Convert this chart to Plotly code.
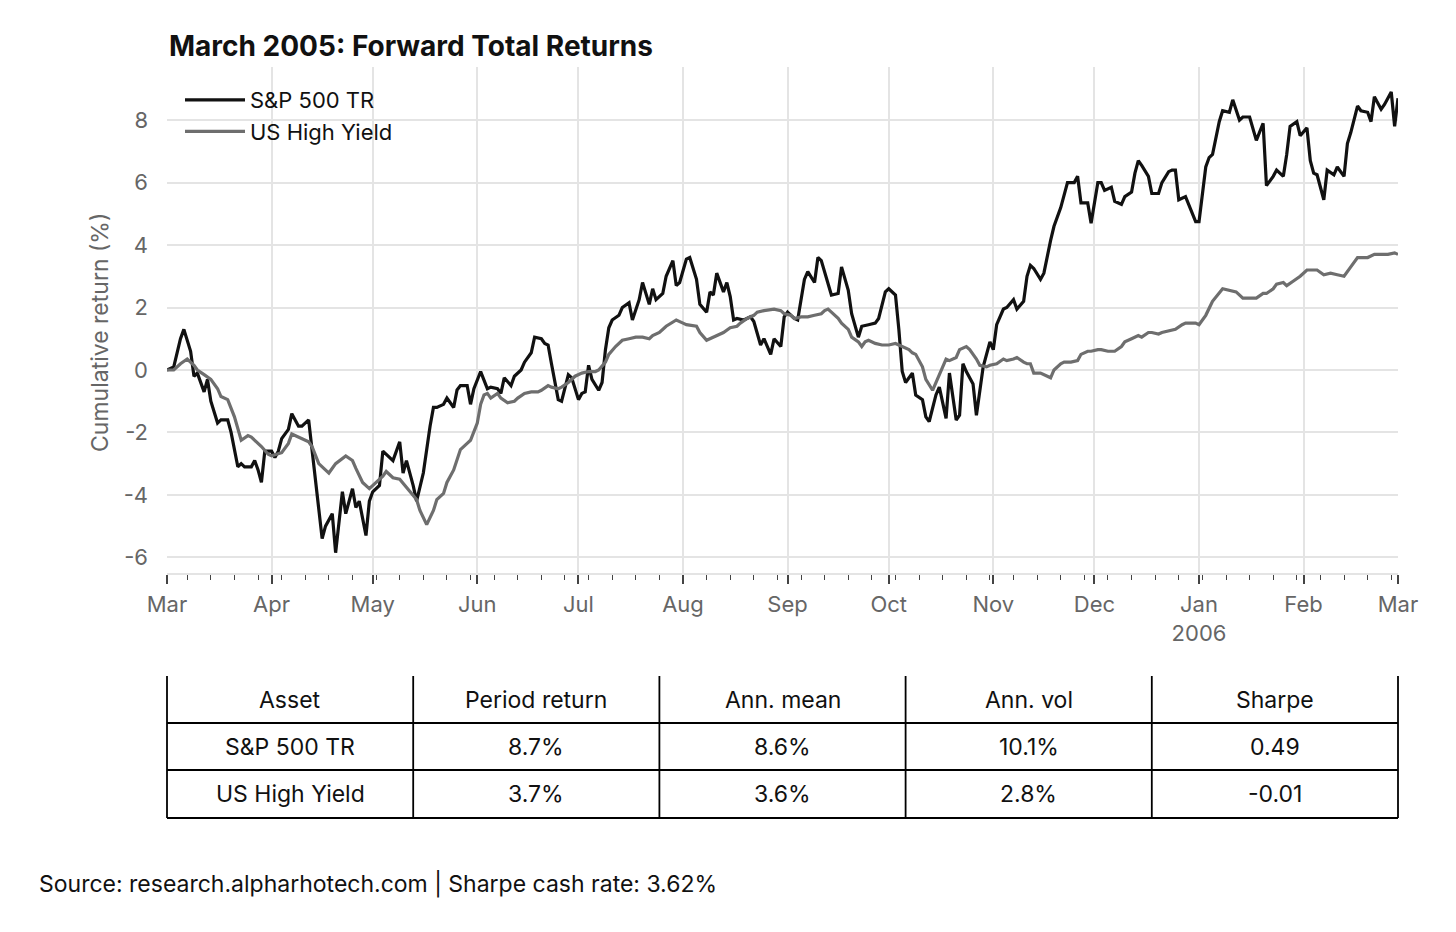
import pandas as pd
import plotly.graph_objects as go

# ---------------- data ----------------
START = "2005-03-01"

sp_days = [0, 2, 4, 5, 7, 8, 9, 11, 12, 13, 15, 16, 18, 19, 21, 22, 23, 25, 26, 27, 28, 29, 31, 32, 33, 34, 36, 37, 39, 40,
           42, 43, 44, 46, 47, 49, 50, 52, 53, 55, 56, 57, 59, 60, 61, 63, 64, 66, 67, 69, 70, 71, 73, 74, 76, 78, 79, 80, 82, 83,
           85, 86, 87, 89, 90, 91, 93, 95, 96, 98, 99, 100, 102, 103, 105, 106, 108, 109, 111, 112, 113, 114, 115, 116, 117, 119, 120, 122, 123, 124,
           125, 126, 128, 129, 130, 131, 132, 134, 135, 137, 138, 140, 141, 143, 144, 145, 147, 148, 150, 151, 152, 154, 155, 157, 158, 160, 161, 162, 163, 165,
           166, 167, 168, 169, 171, 173, 174, 175, 176, 177, 179, 180, 182, 183, 184, 186, 187, 189, 190, 192, 193, 194, 196, 197, 199, 200, 202, 203, 205, 206,
           208, 210, 211, 213, 214, 216, 217, 218, 219, 221, 222, 224, 225, 226, 228, 229, 231, 232, 234, 235, 236, 237, 239, 240, 242, 243, 244, 245, 246, 248,
           249, 251, 252, 254, 255, 256, 257, 259, 260, 262, 263, 265, 266, 267, 269, 270, 271, 273, 274, 276, 277, 278, 280, 281, 283, 284, 286, 287, 288, 289,
           291, 292, 294, 295, 297, 298, 299, 300, 302, 303, 305, 306, 308, 309, 310, 312, 313, 315, 316, 318, 319, 321, 322, 323, 325, 326, 328, 329, 331, 332,
           333, 335, 336, 338, 339, 340, 341, 343, 344, 346, 347, 349, 350, 351, 353, 354, 356, 357, 358, 360, 361, 363, 364, 365]
sp_ret = [0.0, 0.1, 1.0, 1.3, 0.6, -0.2, -0.1, -0.7, -0.3, -1.0, -1.7, -1.6, -1.6, -2.0, -3.1, -3.0, -3.1, -3.1, -2.9, -3.2, -3.6, -2.6, -2.6, -2.8, -2.6, -2.2, -1.9, -1.4, -1.8, -1.8,
          -1.6, -2.5, -3.6, -5.4, -5.0, -4.6, -5.85, -3.9, -4.6, -3.8, -4.4, -4.2, -5.3, -4.2, -3.9, -3.7, -2.6, -2.8, -2.9, -2.3, -3.3, -2.9, -3.7, -4.2, -3.3, -1.8, -1.2, -1.2, -1.1, -0.9,
          -1.2, -0.64, -0.5, -0.5, -1.1, -0.6, -0.05, -0.6, -0.55, -0.6, -0.75, -0.25, -0.5, -0.2, 0.0, 0.25, 0.55, 1.05, 1.0, 0.85, 0.8, 0.2, -0.4, -0.95, -1.0, -0.15, -0.25, -0.95, -0.75, -0.7,
          0.15, -0.3, -0.65, -0.4, 0.65, 1.35, 1.6, 1.75, 2.0, 2.15, 1.6, 2.25, 2.8, 2.1, 2.6, 2.25, 2.45, 3.0, 3.5, 2.7, 2.8, 3.55, 3.6, 2.9, 2.1, 1.85, 2.5, 2.4, 3.1, 2.5,
          2.8, 2.35, 1.6, 1.65, 1.6, 1.7, 1.55, 1.2, 0.8, 1.0, 0.5, 1.0, 0.75, 1.7, 1.85, 1.65, 1.6, 2.9, 3.15, 2.8, 3.6, 3.5, 2.8, 2.4, 2.45, 3.3, 2.55, 1.8, 1.05, 1.4,
          1.45, 1.5, 1.65, 2.5, 2.6, 2.4, 1.3, -0.05, -0.4, -0.1, -0.8, -0.95, -1.5, -1.65, -0.8, -0.55, -1.55, -0.1, -1.6, -1.45, 0.2, -0.05, -0.45, -1.45, 0.1, 0.5, 0.9, 0.65, 1.45, 1.95,
          2.0, 2.25, 1.95, 2.2, 3.0, 3.35, 3.25, 2.9, 3.1, 4.15, 4.6, 5.2, 5.65, 6.0, 6.0, 6.2, 5.35, 5.35, 4.7, 6.0, 6.0, 5.75, 5.85, 5.4, 5.3, 5.55, 5.7, 6.3, 6.7, 6.55,
          6.2, 5.65, 5.65, 6.0, 6.35, 6.4, 6.4, 5.45, 5.55, 5.3, 4.75, 4.75, 6.5, 6.8, 6.9, 7.95, 8.3, 8.25, 8.65, 8.0, 8.1, 8.1, 7.75, 7.35, 7.9, 5.9, 6.2, 6.4, 6.2, 6.9,
          7.8, 7.95, 7.5, 7.75, 6.7, 6.3, 6.25, 5.45, 6.4, 6.25, 6.5, 6.2, 7.25, 7.6, 8.45, 8.3, 8.25, 7.95, 8.75, 8.35, 8.5, 8.9, 7.8, 8.7]

hy_days = [0, 2, 4, 6, 8, 9, 11, 13, 15, 16, 18, 20, 22, 24, 25, 28, 30, 31, 34, 36, 37, 39, 42, 43, 45, 48, 50, 53, 55, 56,
           58, 60, 62, 64, 65, 67, 69, 71, 74, 75, 77, 79, 80, 82, 83, 85, 86, 87, 89, 90, 92, 93, 94, 95, 96, 98, 99, 101, 103, 104,
           106, 108, 110, 111, 113, 114, 116, 117, 119, 121, 123, 125, 127, 128, 130, 131, 133, 135, 137, 139, 141, 143, 144, 146, 148, 150, 151, 153, 154, 157,
           158, 160, 161, 163, 165, 167, 169, 170, 172, 174, 175, 177, 179, 180, 182, 183, 185, 186, 188, 190, 192, 194, 195, 196, 197, 199, 200, 202, 203, 205,
           206, 207, 208, 210, 212, 214, 216, 218, 220, 221, 222, 224, 225, 227, 228, 230, 231, 232, 234, 235, 237, 238, 240, 241, 243, 244, 246, 248, 249, 251,
           252, 254, 255, 256, 257, 259, 260, 262, 263, 265, 266, 268, 270, 271, 273, 274, 276, 277, 279, 281, 283, 284, 286, 287, 288, 289, 291, 292, 294, 295,
           297, 299, 301, 302, 305, 306, 308, 310, 313, 315, 317, 319, 322, 323, 325, 326, 328, 329, 331, 332, 334, 336, 338, 340, 341, 343, 345, 347, 349, 351,
           353, 355, 356, 358, 360, 362, 364, 365]
hy_ret = [0.0, 0.0, 0.2, 0.35, 0.15, 0.0, -0.15, -0.3, -0.6, -0.85, -0.95, -1.5, -2.25, -2.1, -2.15, -2.45, -2.7, -2.75, -2.65, -2.35, -2.05, -2.15, -2.3, -2.45, -3.0, -3.3, -3.0, -2.75, -2.9, -3.15,
          -3.6, -3.8, -3.6, -3.4, -3.25, -3.45, -3.5, -3.75, -4.15, -4.5, -4.95, -4.5, -4.15, -3.95, -3.6, -3.2, -2.9, -2.55, -2.35, -2.25, -1.7, -1.1, -0.8, -0.75, -0.9, -0.75, -0.9, -1.05, -1.0, -0.9,
          -0.75, -0.7, -0.7, -0.65, -0.5, -0.55, -0.6, -0.55, -0.4, -0.2, -0.1, -0.05, -0.05, 0.0, 0.25, 0.5, 0.75, 0.95, 1.0, 1.05, 1.05, 1.0, 1.1, 1.2, 1.4, 1.55, 1.6, 1.5, 1.45, 1.4,
          1.2, 0.95, 1.0, 1.1, 1.2, 1.35, 1.4, 1.5, 1.65, 1.75, 1.85, 1.9, 1.95, 1.95, 1.9, 1.8, 1.75, 1.65, 1.7, 1.7, 1.75, 1.8, 1.9, 1.95, 1.85, 1.65, 1.5, 1.3, 1.05, 0.9,
          0.75, 0.9, 0.95, 0.85, 0.8, 0.8, 0.85, 0.75, 0.65, 0.55, 0.5, 0.1, -0.3, -0.65, -0.4, 0.1, 0.35, 0.3, 0.4, 0.65, 0.75, 0.65, 0.35, 0.15, 0.1, 0.15, 0.2, 0.35, 0.3, 0.35,
          0.4, 0.25, 0.2, 0.2, -0.1, -0.1, -0.15, -0.25, 0.0, 0.2, 0.25, 0.25, 0.3, 0.5, 0.6, 0.6, 0.65, 0.65, 0.6, 0.6, 0.75, 0.9, 1.0, 1.05, 1.1, 1.05, 1.2, 1.2, 1.15, 1.2,
          1.25, 1.3, 1.45, 1.5, 1.5, 1.45, 1.75, 2.2, 2.6, 2.55, 2.5, 2.3, 2.3, 2.3, 2.45, 2.45, 2.6, 2.75, 2.8, 2.7, 2.85, 3.0, 3.2, 3.2, 3.2, 3.05, 3.1, 3.05, 3.0, 3.3,
          3.6, 3.6, 3.6, 3.7, 3.7, 3.7, 3.75, 3.7]

month_ticks = ["2005-03-01", "2005-04-01", "2005-05-01", "2005-06-01", "2005-07-01", "2005-08-01", "2005-09-01",
               "2005-10-01", "2005-11-01", "2005-12-01", "2006-01-01", "2006-02-01", "2006-03-01"]
month_labels = ["Mar", "Apr", "May", "Jun", "Jul", "Aug", "Sep", "Oct", "Nov", "Dec", "Jan<br>2006", "Feb", "Mar"]
y_ticks = [-6, -4, -2, 0, 2, 4, 6, 8]
y_labels = ["-6", "-4", "-2", "0", "2", "4", "6", "8"]

table_header = ["Asset", "Period return", "Ann. mean", "Ann. vol", "Sharpe"]
assets = ["S&P 500 TR", "US High Yield"]
period_return = ["8.7%", "3.7%"]
ann_mean = ["8.6%", "3.6%"]
ann_vol = ["10.1%", "2.8%"]
sharpe = ["0.49", "-0.01"]

title_text = "March 2005: Forward Total Returns"
y_title = "Cumulative return (%)"
source_text = "Source: research.alpharhotech.com | Sharpe cash rate: 3.62%"

# ---------------- figure ----------------
W, H = 1456, 932
FONT = "Inter"
FS = 22

start = pd.Timestamp(START)
sp_dates = start + pd.to_timedelta(sp_days, unit="D")
hy_dates = start + pd.to_timedelta(hy_days, unit="D")

px0, px1 = 167, 1398
py_top, py_bot = 67, 573

fig = go.Figure()
fig.add_trace(go.Scatter(x=sp_dates, y=sp_ret, mode="lines", name="S&P 500 TR",
                         line=dict(color="#111111", width=3.2)))
fig.add_trace(go.Scatter(x=hy_dates, y=hy_ret, mode="lines", name="US High Yield",
                         line=dict(color="#6e6e6e", width=3.2)))

fig.add_hline(y=0, line=dict(color="black", width=1.4), layer="below")

# ---- summary table built from the lists above (shapes + text) ----
rows = [table_header] + [list(r) for r in zip(assets, period_return, ann_mean, ann_vol, sharpe)]
tx0, tx1 = px0 / W, px1 / W
row_edges = [676, 723, 770, 818]
ncol = len(table_header)
shapes = []
annots = []
for k, yy in enumerate(row_edges):
    shapes.append(dict(type="line", xref="paper", yref="paper", x0=tx0, x1=tx1,
                       y0=1 - yy / H, y1=1 - yy / H, line=dict(color="black", width=1.8)))
for c in range(ncol + 1):
    xx = tx0 + (tx1 - tx0) * c / ncol
    shapes.append(dict(type="line", xref="paper", yref="paper", x0=xx, x1=xx,
                       y0=1 - row_edges[-1] / H, y1=1 - row_edges[0] / H,
                       line=dict(color="black", width=1.8)))
for r, row in enumerate(rows):
    yc = 1 - (row_edges[r] + row_edges[r + 1]) / 2 / H
    for c, val in enumerate(row):
        xc = tx0 + (tx1 - tx0) * (c + 0.5) / ncol
        annots.append(dict(text=val, xref="paper", yref="paper", x=xc, y=yc,
                           xanchor="center", yanchor="middle", showarrow=False,
                           font=dict(size=23, color="#111111", family=FONT)))

annots += [
    dict(text="<b>" + title_text + "</b>", xref="paper", yref="paper",
         x=px0 / W, y=1 - 46 / H, xanchor="left", yanchor="middle",
         showarrow=False, font=dict(size=28, color="#111111", family=FONT)),
    dict(text=y_title, xref="paper", yref="paper", textangle=-90,
         x=100 / W, y=1 - 333 / H, xanchor="center", yanchor="middle",
         showarrow=False, font=dict(size=23, color="#666666", family=FONT)),
    dict(text=source_text, xref="paper", yref="paper",
         x=37 / W, y=1 - 884 / H, xanchor="left", yanchor="middle",
         showarrow=False, font=dict(size=23, color="#111111", family=FONT)),
]

fig.update_layout(
    width=W, height=H, autosize=False,
    margin=dict(l=0, r=0, t=0, b=0, autoexpand=False),
    paper_bgcolor="white", plot_bgcolor="white",
    font=dict(family=FONT, size=FS, color="#111111"),
    showlegend=True,
    legend=dict(x=180 / W, y=1 - 79 / H, xanchor="left", yanchor="top",
                bgcolor="rgba(0,0,0,0)", font=dict(size=FS, color="#111111"),
                itemwidth=60, tracegroupgap=0),
    xaxis=dict(domain=[px0 / W, px1 / W], type="date", automargin=False,
               range=["2005-03-01", "2006-03-01"],
               tickmode="array", tickvals=month_ticks, ticktext=month_labels,
               showgrid=True, gridcolor="#e4e4e4", gridwidth=1.5,
               ticks="outside", ticklen=9, tickwidth=1.5, tickcolor="#444444",
               ticklabelstandoff=2,
               tickfont=dict(size=FS, color="#666666"),
               showline=True, linecolor="#e4e4e4", linewidth=1.5,
               minor=dict(ticks="outside", ticklen=5, tickwidth=1.2, tickcolor="#444444",
                          dtick=7 * 86400000, tick0="2005-03-07", showgrid=False),
               zeroline=False),
    yaxis=dict(domain=[1 - py_bot / H, 1 - py_top / H], automargin=False,
               range=[-6.5, 9.7],
               tickmode="array", tickvals=y_ticks, ticktext=y_labels,
               showgrid=True, gridcolor="#e4e4e4", gridwidth=1.5,
               ticks="", ticklabelstandoff=18,
               tickfont=dict(size=FS, color="#666666"),
               zeroline=False, showline=False),
    shapes=shapes,
    annotations=annots,
)

fig.write_html("out.html")
